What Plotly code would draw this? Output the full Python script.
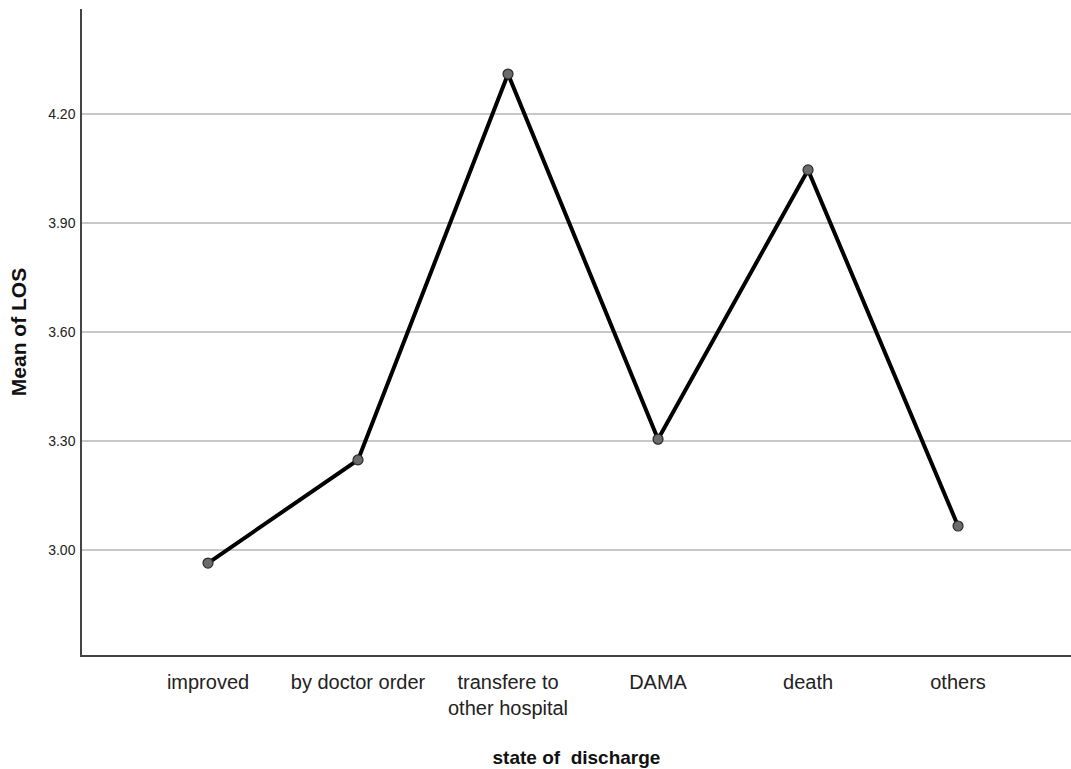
import plotly.graph_objects as go

categories = ["improved", "by doctor order", "transfere to<br>other hospital", "DAMA", "death", "others"]
mean_los = [2.964, 3.248, 4.310, 3.305, 4.046, 3.066]
y_ticks = [3.00, 3.30, 3.60, 3.90, 4.20]
y_tick_labels = ["3.00", "3.30", "3.60", "3.90", "4.20"]

xs = list(range(len(categories)))
FONT = "Liberation Sans, Arial"

fig = go.Figure()
fig.add_trace(go.Scatter(
    x=xs, y=mean_los, mode="lines+markers",
    line=dict(color="#000000", width=4),
    marker=dict(size=10, color="#6b6b6b", line=dict(color="#2a2a2a", width=1.2)),
    showlegend=False,
))

fig.update_layout(
    width=1071, height=769,
    margin=dict(l=82, r=0, t=9, b=114, autoexpand=False),
    paper_bgcolor="white", plot_bgcolor="white",
    font=dict(family=FONT, color="#111111"),
    xaxis=dict(
        range=[-0.84, 5.753], tickmode="array", tickvals=xs, ticktext=categories,
        showgrid=False, zeroline=False, showline=True, linecolor="#444444", linewidth=1.5,
        ticks="outside", ticklen=8, tickcolor="rgba(0,0,0,0)",
        tickfont=dict(size=20, family=FONT, color="#222222"),
        title=dict(text="<b>state of  discharge</b>", font=dict(size=19, family=FONT, color="#111111"), standoff=33),
    ),
    yaxis=dict(
        range=[2.711, 4.489], tickmode="array", tickvals=y_ticks, ticktext=y_tick_labels,
        showgrid=True, gridcolor="#c8c8c8", gridwidth=1.5, zeroline=False,
        showline=True, linecolor="#444444", linewidth=1.5,
        ticks="outside", ticklen=2, tickcolor="rgba(0,0,0,0)",
        tickfont=dict(size=14, family=FONT, color="#222222"),
        title=dict(text="<b>Mean of LOS</b>", font=dict(size=21, family=FONT, color="#111111"), standoff=16),
    ),
)

fig.write_html("out.html", config={"displayModeBar": False},
               post_script="document.body.style.margin='0';document.body.style.overflow='hidden';")
